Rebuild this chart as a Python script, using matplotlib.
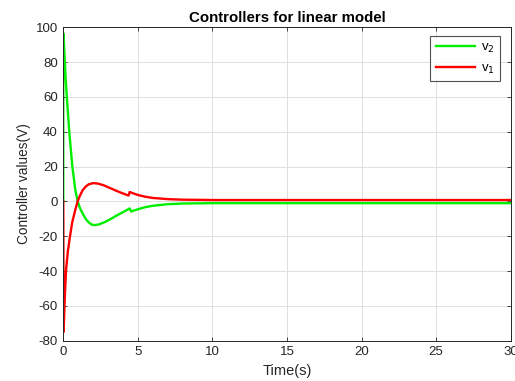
import matplotlib
matplotlib.use("Agg")
import matplotlib.pyplot as plt

plt.rcParams['font.family'] = ['Liberation Sans', 'DejaVu Sans']
plt.rcParams['axes.unicode_minus'] = False

# Data
t_v2 = [0, 0, 0.05, 0.15, 0.23, 0.4, 0.6, 0.8, 0.95, 1.1, 1.3, 1.5, 1.7, 1.9, 2.1,
        2.4, 2.8, 3.2, 3.6, 4.0, 4.4, 4.45, 4.55, 5.0, 5.5, 6.0, 7.0, 8.0, 10, 15, 30]
v2 = [0, 96.5, 90, 72, 61, 40, 20.5, 7, 0.5, -3.5, -7, -10, -12, -13.3, -13.6,
      -13.2, -11.8, -10, -8, -6.2, -4.3, -4.0, -5.8, -4.5, -3.3, -2.5, -1.6, -1.2, -1.0, -1.0, -1.0]

t_v1 = [0, 0.02, 0.05, 0.1, 0.18, 0.3, 0.45, 0.6, 0.8, 0.96, 1.1, 1.3, 1.5, 1.7, 2.0,
        2.3, 2.7, 3.1, 3.5, 3.9, 4.3, 4.38, 4.45, 4.7, 5.0, 5.5, 6.0, 7.0, 8.0, 10, 30]
v1 = [0, -75, -68, -55, -40, -29, -20, -12, -5, 0, 3, 6.5, 8.5, 9.8, 10.5,
      10.3, 9.3, 7.8, 6.3, 4.9, 3.6, 3.4, 5.4, 4.6, 3.7, 2.7, 2.0, 1.3, 1.0, 0.8, 0.8]

xticks = [0, 5, 10, 15, 20, 25, 30]
yticks = [-80, -60, -40, -20, 0, 20, 40, 60, 80, 100]

fig = plt.figure(figsize=(5.15, 3.81), dpi=100)
ax = fig.add_axes([0.1229, 0.1058, 0.9917 - 0.1229, 0.9283 - 0.1058])

ax.plot(t_v2, v2, color='#00ee00', lw=1.7, label='v$_2$')
ax.plot(t_v1, v1, color='#ff0000', lw=1.7, label='v$_1$')

ax.set_xlim(0, 30)
ax.set_ylim(-80, 100)
ax.set_xticks(xticks)
ax.set_yticks(yticks)
ax.grid(True, color='#dedede', lw=0.7)
ax.set_axisbelow(True)
ax.tick_params(direction='in', top=True, right=True, length=3, width=0.6,
               labelsize=9.5, colors='#262626', pad=4)
for s in ax.spines.values():
    s.set_color('#262626')
    s.set_linewidth(0.7)

ax.set_title('Controllers for linear model', fontsize=10.8, fontweight='bold', pad=4)
ax.set_xlabel('Time(s)', fontsize=10.5, color='#262626', labelpad=4)
ax.set_ylabel('Controller values(V)', fontsize=9.8, color='#262626', labelpad=3)

leg = ax.legend(loc='upper right', bbox_to_anchor=(0.976, 0.972), borderaxespad=0,
                fontsize=9.5, handlelength=3.0, frameon=True,
                fancybox=False, edgecolor='#262626',
                labelspacing=0.55, borderpad=0.42, handletextpad=0.4)
leg.get_frame().set_linewidth(0.8)

fig.savefig('out.png', dpi=100)
